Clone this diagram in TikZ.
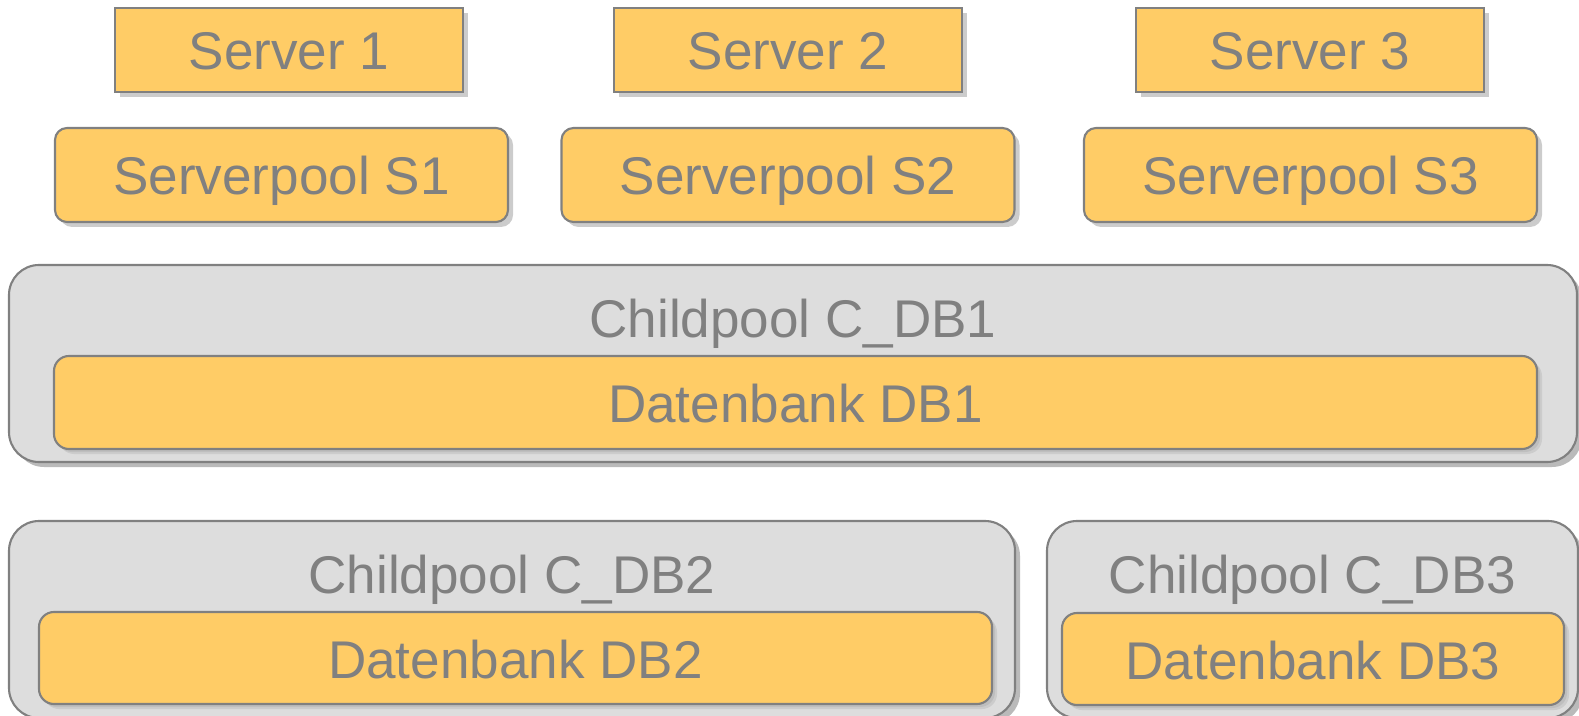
\documentclass[tikz,border=0pt]{standalone}
\usepackage{fontspec}
\setmainfont{Liberation Sans}
\usetikzlibrary{positioning,shadows}
\definecolor{color_box}{RGB}{255,204,102}
\definecolor{color_pool}{RGB}{221,221,221}
\definecolor{color_line}{RGB}{128,128,128}

\begin{document}
\begin{tikzpicture}[
font=\fontsize{15.1}{17}\selectfont,
every node/.style={text=color_line,text height=0.40cm,text depth=0cm},
server/.style={draw=color_line,fill=color_box,line width=0.6pt,
  minimum width=3.48cm,minimum height=0.84cm,
  drop shadow={shadow xshift=0.05cm,shadow yshift=-0.05cm,fill=black!20,opacity=1}},
serverpool/.style={server,rounded corners=0.12cm,minimum width=4.53cm,minimum height=0.94cm},
database/.style={server,rounded corners=0.15cm,minimum height=0.93cm,
  drop shadow={shadow xshift=0.03cm,shadow yshift=-0.03cm,fill=black!30,opacity=0.5}},
childpool/.style={draw=color_line,fill=color_pool,line width=0.6pt,
  rounded corners=0.3cm,minimum height=1.97cm,
  drop shadow={shadow xshift=0.05cm,shadow yshift=-0.05cm,fill=black!45,opacity=0.6}}]
\useasboundingbox (0,0) rectangle (15.79,-7.16);
% SERVER
\node[server] (s1) at (2.89,-0.50) {Server 1};
\node[server] (s2) at (7.88,-0.50) {Server 2};
\node[server] (s3) at (13.10,-0.50) {Server 3};
% SERVERPOOLS
\node[serverpool] (sp1) at (2.815,-1.75) {Serverpool S1};
\node[serverpool] (sp2) at (7.88,-1.75) {Serverpool S2};
\node[serverpool] (sp3) at (13.105,-1.75) {Serverpool S3};
% CHILDPOOL C_DB1
\node[childpool,minimum width=15.68cm] (cdb1) at (7.93,-3.635) {};
\node (cdb1t) at (7.93,-3.17) {Childpool C\_DB1};
\node[database,minimum width=14.83cm] (db1) at (7.955,-4.025) {Datenbank DB1};
% CHILDPOOL C_DB2
\node[childpool,minimum width=10.06cm] (cdb2) at (5.12,-6.195) {};
\node (cdb2t) at (5.12,-5.73) {Childpool C\_DB2};
\node[database,minimum width=9.53cm,minimum height=0.92cm] (db2) at (5.155,-6.58) {Datenbank DB2};
% CHILDPOOL C_DB3
\node[childpool,minimum width=5.31cm] (cdb3) at (13.125,-6.195) {};
\node (cdb3t) at (13.125,-5.73) {Childpool C\_DB3};
\node[database,minimum width=5.02cm,minimum height=0.92cm] (db3) at (13.13,-6.59) {Datenbank DB3};
\end{tikzpicture}
\end{document}
